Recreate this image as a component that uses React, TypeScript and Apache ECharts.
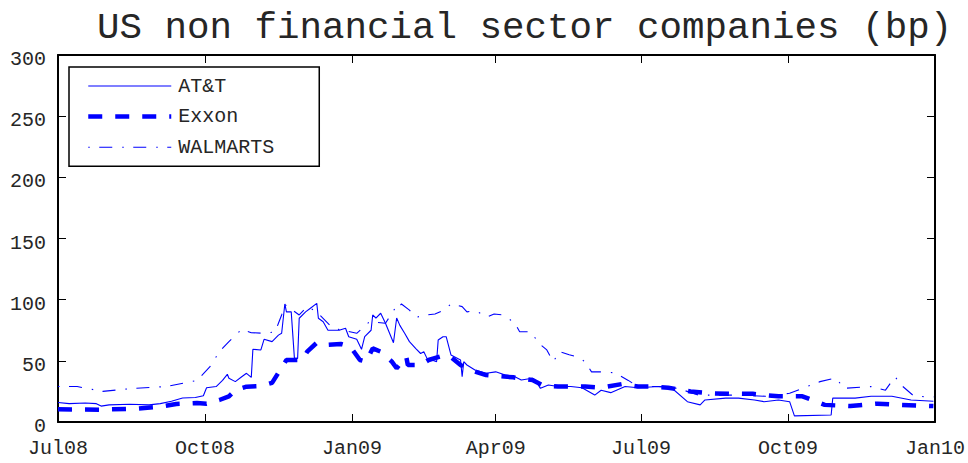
import React, { useEffect, useRef } from "react";
import * as echarts from "echarts";

const TITLE = "US non financial sector companies (bp)";
const SERIES_NAMES = ["AT&T", "Exxon", "WALMARTS"];
const X_MIN = "2008-07-01";
const X_MAX = "2010-01-01";
const X_TICK_DATES = [
  "2008-07-01",
  "2008-10-01",
  "2009-01-01",
  "2009-04-01",
  "2009-07-01",
  "2009-10-01",
  "2010-01-01",
];
const MONTH_NAMES = ["Jan", "Feb", "Mar", "Apr", "May", "Jun", "Jul", "Aug", "Sep", "Oct", "Nov", "Dec"];
const Y_MIN = 0;
const Y_MAX = 300;
const Y_STEP = 50;

const attData: [string, number][] = [
  ["2008-07-01", 16], ["2008-07-08", 15], ["2008-07-18", 15.5], ["2008-07-25", 15],
  ["2008-07-28", 13], ["2008-08-02", 14], ["2008-08-15", 14.5], ["2008-08-27", 14],
  ["2008-09-03", 15], ["2008-09-10", 17], ["2008-09-17", 19.6], ["2008-09-25", 20],
  ["2008-09-30", 21.5], ["2008-10-02", 28], ["2008-10-08", 29], ["2008-10-12", 34],
  ["2008-10-15", 39], ["2008-10-16", 35.7], ["2008-10-20", 33], ["2008-10-24", 37],
  ["2008-10-27", 39.8], ["2008-10-30", 36.5], ["2008-10-31", 59.4], ["2008-11-05", 58.9],
  ["2008-11-07", 67.6], ["2008-11-12", 65.7], ["2008-11-16", 71], ["2008-11-18", 72.5],
  ["2008-11-20", 96.5], ["2008-11-21", 90], ["2008-11-24", 90], ["2008-11-26", 52],
  ["2008-11-28", 52], ["2008-11-29", 84.8], ["2008-12-03", 90], ["2008-12-06", 93],
  ["2008-12-10", 97], ["2008-12-11", 84.8], ["2008-12-14", 82], ["2008-12-17", 75],
  ["2008-12-24", 75], ["2008-12-28", 76.6], ["2008-12-30", 69.7], ["2009-01-04", 67.6],
  ["2009-01-07", 59.4], ["2009-01-09", 69.7], ["2009-01-13", 75], ["2009-01-14", 87.5],
  ["2009-01-16", 85], ["2009-01-19", 88.9], ["2009-01-22", 80.7], ["2009-01-27", 64.8],
  ["2009-01-29", 85], ["2009-01-31", 79], ["2009-02-03", 72.5], ["2009-02-06", 65.7],
  ["2009-02-10", 60], ["2009-02-13", 56], ["2009-02-15", 57.5], ["2009-02-17", 52],
  ["2009-02-20", 50.7], ["2009-02-23", 49.3], ["2009-02-24", 67], ["2009-02-27", 69.7],
  ["2009-03-01", 69.7], ["2009-03-04", 54.8], ["2009-03-10", 50.7], ["2009-03-11", 37],
  ["2009-03-12", 49.3], ["2009-03-14", 46.6], ["2009-03-19", 42.5], ["2009-03-26", 39.8],
  ["2009-04-01", 41], ["2009-04-07", 38.4], ["2009-04-13", 37], ["2009-04-17", 34.3],
  ["2009-04-24", 35.7], ["2009-04-26", 34], ["2009-04-29", 27.5], ["2009-05-04", 30.2],
  ["2009-05-10", 29], ["2009-05-18", 29], ["2009-05-25", 28], ["2009-06-02", 22],
  ["2009-06-06", 26], ["2009-06-12", 24], ["2009-06-21", 29], ["2009-06-29", 28],
  ["2009-07-12", 29], ["2009-07-20", 28], ["2009-07-30", 16.6], ["2009-08-07", 14],
  ["2009-08-10", 18], ["2009-08-23", 19.5], ["2009-08-31", 19.5], ["2009-09-10", 18],
  ["2009-09-16", 16.6], ["2009-09-25", 18], ["2009-10-02", 16.6], ["2009-10-05", 5],
  ["2009-10-28", 5.7], ["2009-10-29", 19.5], ["2009-11-12", 19.5], ["2009-11-22", 21],
  ["2009-12-05", 21], ["2009-12-17", 18], ["2009-12-31", 17],
];

const exxonData: [string, number][] = [
  ["2008-07-01", 10.4], ["2008-07-27", 10], ["2008-08-20", 11], ["2008-09-03", 12.5],
  ["2008-09-13", 14.7], ["2008-09-26", 15.5], ["2008-10-02", 15], ["2008-10-10", 18],
  ["2008-10-16", 21], ["2008-10-20", 26], ["2008-10-27", 28.9], ["2008-11-05", 29.4],
  ["2008-11-12", 32], ["2008-11-19", 46.6], ["2008-11-21", 50.7], ["2008-12-01", 50.7],
  ["2008-12-04", 57.5], ["2008-12-10", 64.8], ["2008-12-16", 63], ["2008-12-25", 63.8],
  ["2008-12-31", 61.6], ["2009-01-06", 50.7], ["2009-01-10", 49.3], ["2009-01-14", 60.2],
  ["2009-01-19", 57.5], ["2009-01-26", 49.3], ["2009-01-29", 43.9], ["2009-02-04", 53.4],
  ["2009-02-05", 46.6], ["2009-02-13", 46.6], ["2009-02-18", 50.7], ["2009-02-25", 53.4],
  ["2009-03-03", 54], ["2009-03-10", 46.6], ["2009-03-16", 42.5], ["2009-03-26", 38.4],
  ["2009-04-12", 36.5], ["2009-04-24", 34.3], ["2009-04-30", 30.2], ["2009-05-10", 29],
  ["2009-05-18", 29], ["2009-05-27", 29], ["2009-06-06", 28], ["2009-06-19", 31],
  ["2009-06-29", 29], ["2009-07-07", 29], ["2009-07-18", 28], ["2009-08-01", 25],
  ["2009-08-13", 23.5], ["2009-08-26", 23], ["2009-09-09", 23], ["2009-09-25", 21],
  ["2009-10-10", 21], ["2009-10-24", 14], ["2009-11-09", 13], ["2009-11-26", 15],
  ["2009-12-11", 14], ["2009-12-31", 13],
];

const walmartData: [string, number][] = [
  ["2008-07-01", 29], ["2008-07-13", 29], ["2008-07-29", 25], ["2008-08-17", 27.5],
  ["2008-09-07", 29], ["2008-09-26", 34], ["2008-10-04", 45], ["2008-10-10", 57.5],
  ["2008-10-16", 65.7], ["2008-10-24", 75.8], ["2008-10-30", 73], ["2008-11-08", 72.5],
  ["2008-11-14", 73.8], ["2008-11-16", 80.7], ["2008-11-18", 87.5], ["2008-11-20", 96],
  ["2008-11-29", 87.5], ["2008-12-04", 94.3], ["2008-12-10", 90], ["2008-12-20", 76.6],
  ["2008-12-30", 74], ["2009-01-04", 72.5], ["2009-01-12", 82], ["2009-01-22", 80.7],
  ["2009-01-28", 93], ["2009-01-29", 91.5], ["2009-02-01", 96.5], ["2009-02-06", 91.5],
  ["2009-02-10", 85.6], ["2009-02-17", 87.5], ["2009-02-22", 88.3], ["2009-02-28", 91.5],
  ["2009-03-04", 96.5], ["2009-03-11", 94.3], ["2009-03-14", 90], ["2009-03-19", 91],
  ["2009-03-27", 86], ["2009-03-31", 88.3], ["2009-04-06", 87.5], ["2009-04-13", 80.7],
  ["2009-04-16", 73.8], ["2009-04-23", 73.8], ["2009-04-28", 64.3], ["2009-05-03", 58.9],
  ["2009-05-07", 49.3], ["2009-05-09", 53.4], ["2009-05-11", 57.5], ["2009-05-17", 55],
  ["2009-05-23", 53], ["2009-05-27", 49], ["2009-05-31", 41], ["2009-06-09", 41],
  ["2009-06-15", 40], ["2009-06-23", 34], ["2009-06-29", 29], ["2009-07-12", 29],
  ["2009-07-24", 27.5], ["2009-08-06", 22], ["2009-08-18", 22], ["2009-08-31", 22],
  ["2009-09-17", 21], ["2009-10-02", 23.5], ["2009-10-15", 30], ["2009-10-21", 33],
  ["2009-10-31", 36], ["2009-11-05", 27.5], ["2009-11-22", 29], ["2009-12-01", 26],
  ["2009-12-07", 37], ["2009-12-11", 30], ["2009-12-19", 21], ["2009-12-31", 20.5],
];

const FONT = "'Liberation Mono', 'DejaVu Sans Mono', monospace";
const BLUE = "#0000ff";
const TEXT = "#262626";

function toTime(s: string): number {
  const [y, m, d] = s.split("-").map(Number);
  return new Date(y, m - 1, d).getTime();
}

function fmtTick(v: number): string {
  const d = new Date(v);
  return MONTH_NAMES[d.getMonth()] + String(d.getFullYear()).slice(2);
}

export default function App() {
  const ref = useRef<HTMLDivElement>(null);

  useEffect(() => {
    if (!ref.current) return;
    const chart = echarts.init(ref.current, null, { renderer: "svg" });
    const tickTimes = X_TICK_DATES.map(toTime);
    const axisLine = { show: true, onZero: false, lineStyle: { color: "#000", width: 2 } };
    const tick = { show: true, inside: true, length: 8, lineStyle: { color: "#000", width: 1 } };

    const toSeries = (d: [string, number][]) => d.map(([t, v]) => [toTime(t), v]);

    chart.setOption({
      animation: false,
      backgroundColor: "#fff",
      title: {
        text: TITLE,
        left: 92,
        top: 4,
        textStyle: { fontFamily: FONT, fontSize: 37.5, fontWeight: "normal", color: TEXT },
      },
      legend: {
        data: SERIES_NAMES,
        orient: "vertical",
        left: 69,
        top: 67,
        padding: [9, 45, 9, 17],
        itemWidth: 83,
        itemHeight: 20,
        itemGap: 10.6,
        borderColor: "#000",
        borderWidth: 1.5,
        backgroundColor: "#fff",
        itemStyle: { opacity: 0, borderWidth: 0 },
        lineStyle: { width: "inherit", type: "inherit", color: "inherit" },
        textStyle: {
          fontFamily: FONT,
          fontSize: 20,
          color: TEXT,
          padding: [8, 0, 0, 2],
        },
      },
      grid: { left: 58, right: 31, top: 55, bottom: 41, containLabel: false },
      xAxis: [
        {
          type: "value",
          min: toTime(X_MIN),
          max: toTime(X_MAX),
          position: "bottom",
          axisLine,
          axisTick: { ...tick, customValues: tickTimes },
          axisLabel: {
            customValues: tickTimes,
            formatter: (v: number) => fmtTick(v),
            fontFamily: FONT,
            fontSize: 20,
            color: TEXT,
            margin: 16,
            showMinLabel: true,
            showMaxLabel: true,
          },
          splitLine: { show: false },
        },
        {
          type: "value",
          min: toTime(X_MIN),
          max: toTime(X_MAX),
          position: "top",
          axisLine,
          axisTick: { ...tick, customValues: tickTimes },
          axisLabel: { show: false },
          splitLine: { show: false },
        },
      ],
      yAxis: [
        {
          type: "value",
          min: Y_MIN,
          max: Y_MAX,
          interval: Y_STEP,
          position: "left",
          axisLine,
          axisTick: tick,
          axisLabel: {
            fontFamily: FONT,
            fontSize: 20,
            color: TEXT,
            margin: 12,
            verticalAlign: "top",
            lineHeight: 9,
          },
          splitLine: { show: false },
        },
        {
          type: "value",
          min: Y_MIN,
          max: Y_MAX,
          interval: Y_STEP,
          position: "right",
          axisLine,
          axisTick: tick,
          axisLabel: { show: false },
          splitLine: { show: false },
        },
      ],
      series: [
        {
          name: SERIES_NAMES[0],
          type: "line",
          data: toSeries(attData),
          showSymbol: false,
          symbol: "none",
          lineStyle: { color: BLUE, width: 1.1 },
          itemStyle: { color: BLUE },
          z: 3,
        },
        {
          name: SERIES_NAMES[1],
          type: "line",
          data: toSeries(exxonData),
          showSymbol: false,
          symbol: "none",
          lineStyle: { color: BLUE, width: 4.5, type: [14, 13], cap: "butt" },
          itemStyle: { color: BLUE },
          z: 2,
        },
        {
          name: SERIES_NAMES[2],
          type: "line",
          data: toSeries(walmartData),
          showSymbol: false,
          symbol: "none",
          lineStyle: { color: BLUE, width: 1.1, type: [13, 10, 1.5, 9.5], dashOffset: 23 },
          itemStyle: { color: BLUE },
          z: 2,
        },
      ],
    });
    return () => chart.dispose();
  }, []);

  return (
    <div
      ref={ref}
      style={{ position: "fixed", left: 0, top: 0, width: 968, height: 463, background: "#fff" }}
    />
  );
}
